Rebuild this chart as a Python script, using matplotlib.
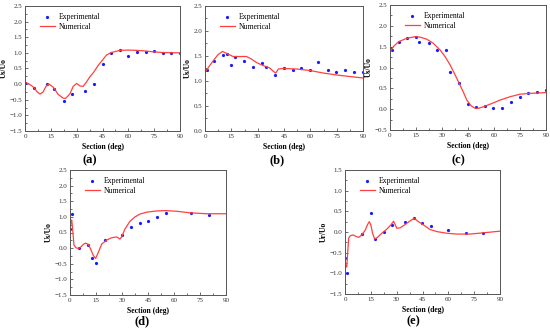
import matplotlib
matplotlib.use("Agg")
import matplotlib.pyplot as plt
from matplotlib.ticker import MultipleLocator

plt.rcParams['font.family'] = ['Liberation Serif', 'DejaVu Serif']

# ---------- data ----------
# (a)
a_exp_x = [0, 5, 12.5, 17, 22.5, 27.5, 35, 40, 45, 50, 55, 60, 65, 70, 75, 80, 85, 90]
a_exp_y = [0.02, -0.14, -0.01, -0.16, -0.55, -0.32, -0.23, -0.01, 0.65, 0.98, 1.08, 0.91, 1.02, 1.02, 1.07, 0.98, 1.01, 1.01]
a_num_x = [0, 2.5, 5, 7, 8.7, 10.5, 12.5, 14, 16.4, 19.3, 22.2, 23.5, 26, 28, 30, 32, 33.8, 35.7, 37.6, 40, 42.5, 45, 47.3, 50, 55, 60, 65, 70, 75, 80, 90]
a_num_y = [0.07, 0.0, -0.1, -0.24, -0.32, -0.25, -0.04, 0.0, -0.1, -0.33, -0.45, -0.46, -0.32, -0.07, 0.02, -0.06, -0.07, 0.07, 0.23, 0.39, 0.6, 0.77, 0.93, 1.01, 1.08, 1.09, 1.08, 1.06, 1.03, 1.01, 1.0]

# (b)
b_exp_x = [0, 1.1, 5.1, 10, 12.7, 15, 17, 22.4, 27.4, 32.3, 35, 40, 45, 50, 54.8, 59.9, 64.6, 69.8, 74.9, 79.8, 84.8, 90]
b_exp_y = [1.21, 1.22, 1.40, 1.52, 1.54, 1.32, 1.48, 1.39, 1.27, 1.36, 1.28, 1.12, 1.25, 1.21, 1.26, 1.22, 1.38, 1.22, 1.18, 1.22, 1.18, 1.17]
b_num_x = [0, 2.5, 5, 7.5, 10, 13, 16, 19.8, 23.6, 26.4, 29.3, 33, 36.9, 39, 40.3, 41.8, 44.4, 52, 59.7, 67.3, 75, 82.5, 90]
b_num_y = [1.17, 1.30, 1.42, 1.53, 1.59, 1.54, 1.49, 1.49, 1.49, 1.44, 1.37, 1.31, 1.26, 1.19, 1.16, 1.24, 1.25, 1.24, 1.21, 1.16, 1.12, 1.09, 1.06]

# (c)
c_exp_x = [0, 1, 5, 10, 15, 17, 22.4, 27.4, 32.4, 34.7, 39.9, 45, 49.9, 54.9, 59.7, 64.9, 69.9, 74.9, 79.9, 85, 90]
c_exp_y = [1.47, 1.41, 1.62, 1.70, 1.74, 1.62, 1.59, 1.42, 1.42, 0.90, 0.64, 0.12, 0.06, 0.08, 0.04, 0.04, 0.18, 0.30, 0.39, 0.41, 0.46]
c_num_x = [0, 1.9, 5, 9.6, 14.4, 17.3, 21.2, 25, 28.9, 31.8, 34.7, 37.6, 39.9, 42.4, 44.3, 46.8, 49.1, 51, 54, 57.8, 63.6, 69.4, 75.1, 80.9, 86.7, 90]
c_num_y = [1.37, 1.50, 1.62, 1.70, 1.74, 1.73, 1.68, 1.58, 1.42, 1.26, 1.06, 0.82, 0.62, 0.40, 0.22, 0.08, 0.02, 0.02, 0.06, 0.12, 0.22, 0.30, 0.36, 0.38, 0.39, 0.40]

# (d)
d_exp_x = [0, 1.3, 5.2, 10.2, 12.7, 15.2, 20.2, 30.2, 35.2, 40.2, 45.2, 50.2, 55.2, 70, 80]
d_exp_y = [0.60, 1.10, 0.01, 0.09, -0.33, -0.47, 0.26, 0.43, 0.67, 0.80, 0.86, 1.00, 1.13, 1.11, 1.07]
d_num_x = [0, 0.6, 1.0, 1.6, 2.3, 3.5, 4.8, 5.8, 7.7, 9, 10.6, 11.9, 13.5, 14.8, 16.3, 18.3, 21.2, 24, 26.9, 28.8, 29.8, 31.7, 34.6, 37.5, 40.4, 44.2, 50, 55.2, 61.5, 69.2, 78.8, 90]
d_num_y = [0.63, 0.85, 0.90, 0.55, 0.10, 0.01, -0.01, 0.01, 0.12, 0.16, 0.12, -0.03, -0.24, -0.33, -0.14, 0.13, 0.26, 0.33, 0.36, 0.29, 0.36, 0.61, 0.86, 1.00, 1.09, 1.15, 1.19, 1.20, 1.18, 1.13, 1.10, 1.10]

# (e)
e_exp_x = [0, 1, 10, 15, 17.2, 22.8, 27, 34.9, 39.9, 44.9, 50, 60, 70, 80]
e_exp_y = [-0.63, -1.0, -0.05, 0.45, -0.17, 0.01, 0.18, 0.24, 0.33, 0.21, 0.14, 0.05, -0.03, -0.02]
e_num_x = [0, 0.5, 1.0, 1.5, 2.1, 3.1, 4.6, 6.6, 7.9, 9.8, 11.8, 13.1, 14.1, 15, 16, 17.2, 18.5, 21.4, 24.3, 26.6, 28.2, 29.2, 30.1, 32, 34.9, 37.8, 40.2, 42.7, 45.6, 49.4, 53.3, 59.1, 64.9, 72.6, 80.3, 90]
e_num_y = [-0.75, -0.82, -0.85, -0.55, -0.15, -0.09, -0.07, -0.11, -0.13, -0.07, 0.05, 0.18, 0.25, 0.17, -0.03, -0.17, -0.14, -0.03, 0.07, 0.17, 0.26, 0.17, 0.09, 0.10, 0.18, 0.27, 0.33, 0.25, 0.17, 0.06, 0.01, -0.03, -0.05, -0.05, -0.02, 0.02]

panel_labels = ['(a)', '(b)', '(c)', '(d)', '(e)']
y_labels = ['Us/Uo', 'Us/Uo', 'Us/Uo', 'Us/Uo', 'Ur/Uo']
x_label = 'Section (deg)'
x_ticks = [0, 15, 30, 45, 60, 75, 90]

# ---------- layout ----------
W, H = 550, 331
fig = plt.figure(figsize=(5.5, 3.31), dpi=100)

def rect(l, t, r, b):
    return [l / W, 1 - b / H, (r - l) / W, (b - t) / H]

panels = [
    dict(rect=rect(25, 6, 180, 131), ylim=(-1.5, 2.5), ystep=0.5, ex=a_exp_x, ey=a_exp_y, nx=a_num_x, ny=a_num_y, lab=(90, 160)),
    dict(rect=rect(205, 6, 363, 131), ylim=(0.0, 2.5), ystep=0.5, ex=b_exp_x, ey=b_exp_y, nx=b_num_x, ny=b_num_y, lab=(277, 160)),
    dict(rect=rect(390, 5, 546, 130), ylim=(-0.5, 2.5), ystep=0.5, ex=c_exp_x, ey=c_exp_y, nx=c_num_x, ny=c_num_y, lab=(458, 160)),
    dict(rect=rect(70, 170, 226, 295), ylim=(-1.5, 2.5), ystep=0.5, ex=d_exp_x, ey=d_exp_y, nx=d_num_x, ny=d_num_y, lab=(142, 321)),
    dict(rect=rect(345, 170, 500, 294), ylim=(-1.5, 1.5), ystep=0.5, ex=e_exp_x, ey=e_exp_y, nx=e_num_x, ny=e_num_y, lab=(413, 321)),
]

red = '#ff4040'
blue = '#1a1aff'
frame = '#555555'

for i, p in enumerate(panels):
    ax = fig.add_axes(p['rect'])
    ax.plot(p['ex'], p['ey'], linestyle='none', marker='o', ms=2.3, mew=0, color=blue, label='Experimental')
    ax.plot(p['nx'], p['ny'], color=red, lw=0.9, label='Numerical')
    ax.set_xlim(0, 90)
    ax.set_ylim(*p['ylim'])
    ax.set_xticks(x_ticks)
    ax.xaxis.set_minor_locator(MultipleLocator(7.5))
    ax.yaxis.set_major_locator(MultipleLocator(p['ystep']))
    ax.yaxis.set_minor_locator(MultipleLocator(p['ystep'] / 2))
    ax.tick_params(which='both', direction='in', labelsize=5, width=0.5, colors='#333333', pad=2)
    ax.tick_params(which='major', length=2.5)
    ax.tick_params(which='minor', length=1.3)
    yt = ax.get_yticks()
    ax.set_yticklabels([f'{v:.1f}'.replace('-', '\u2212') for v in yt])
    for s in ax.spines.values():
        s.set_color(frame)
        s.set_linewidth(0.7)
    ax.set_xlabel(x_label, fontsize=5.5, fontweight='bold', labelpad=3)
    ax.set_ylabel(y_labels[i], fontsize=5.5, fontweight='bold', labelpad=1)
    ax.legend(loc='upper left', bbox_to_anchor=(0.06, 0.985), frameon=False, fontsize=5.5,
              handlelength=2.0, handletextpad=0.5, labelspacing=0.25, borderpad=0.2, numpoints=1)
    lx, ly = p['lab']
    fig.text(lx / W, 1 - ly / H, panel_labels[i], ha='center', va='center', fontsize=9, fontweight='bold')

fig.savefig('out.png', dpi=100)
